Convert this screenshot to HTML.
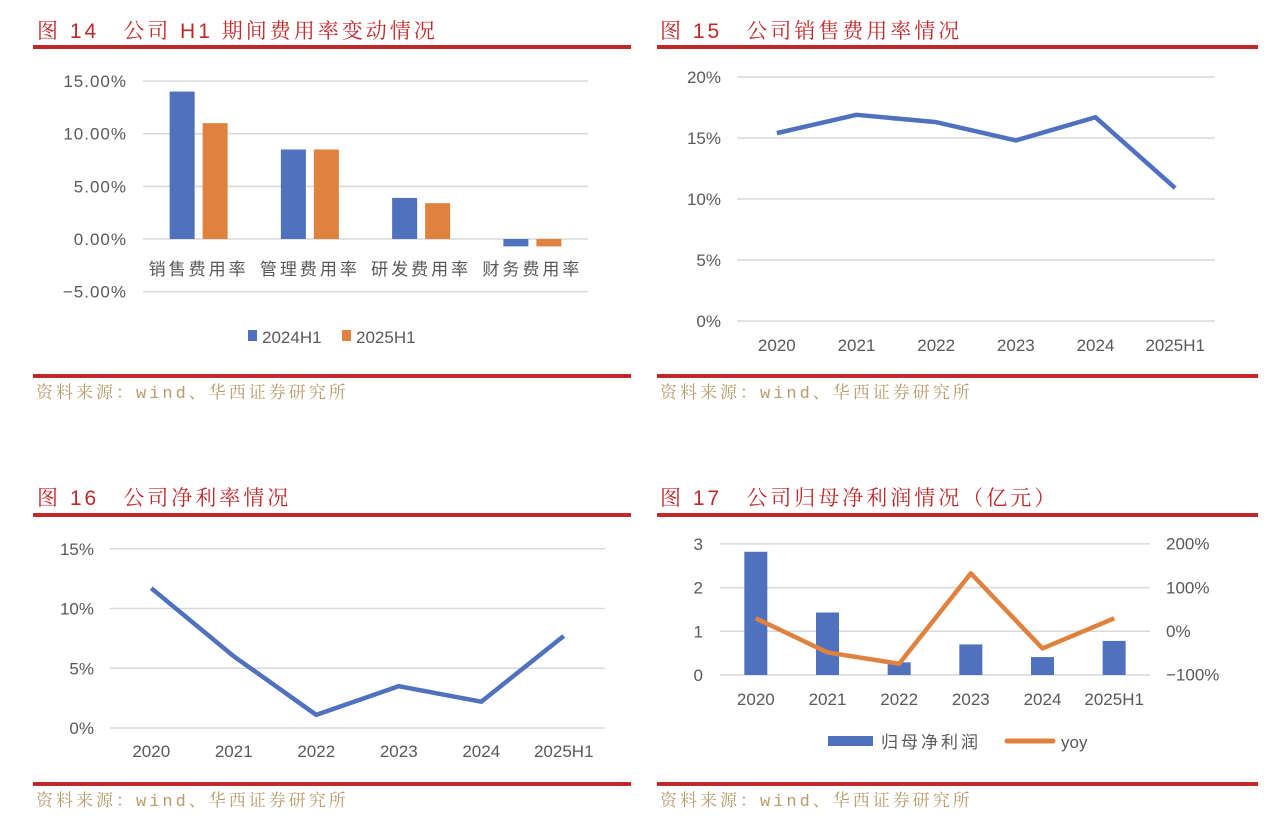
<!DOCTYPE html>
<html><head><meta charset="utf-8"><style>
body{margin:0;background:#fff;}
svg{display:block;}
.t{font-family:"Liberation Sans","Noto Serif CJK SC",serif;font-size:21px;fill:#c0282a;letter-spacing:3px;}
.ax{font-family:"Liberation Sans","Noto Sans CJK SC",sans-serif;font-size:17px;fill:#595959;}
.src{font-family:"Liberation Mono","Noto Serif CJK SC",serif;font-size:17px;fill:#b89b6b;letter-spacing:3px;}
.grid{stroke:#d9d9d9;stroke-width:1.5;}
</style></head><body>
<svg id="s" width="1269" height="816">
<g><text class="t" x="37" y="38">图 14　公司 H1 期间费用率变动情况</text></g>
<rect x="33" y="45" width="598" height="4" fill="#c0282a"/>
<rect x="33" y="374" width="598" height="4" fill="#c0282a"/>
<text class="src" x="36" y="398">资料来源：wind、华西证券研究所</text>
<text class="t" x="660" y="38">图 15　公司销售费用率情况</text>
<rect x="657" y="45" width="601" height="4" fill="#c0282a"/>
<rect x="657" y="374" width="601" height="4" fill="#c0282a"/>
<text class="src" x="660" y="398">资料来源：wind、华西证券研究所</text>
<text class="t" x="37" y="505">图 16　公司净利率情况</text>
<rect x="33" y="513" width="598" height="4" fill="#c0282a"/>
<rect x="33" y="782" width="598" height="4" fill="#c0282a"/>
<text class="src" x="36" y="806">资料来源：wind、华西证券研究所</text>
<text class="t" x="660" y="505">图 17　公司归母净利润情况（亿元）</text>
<rect x="657" y="513" width="601" height="4" fill="#c0282a"/>
<rect x="657" y="782" width="601" height="4" fill="#c0282a"/>
<text class="src" x="660" y="806">资料来源：wind、华西证券研究所</text>
</svg>
<script>
const NS="http://www.w3.org/2000/svg";
const svg=document.getElementById('s');
function mk(tag,attrs,parent){const e=document.createElementNS(NS,tag);for(const k in attrs)e.setAttribute(k,attrs[k]);(parent||svg).appendChild(e);return e;}

// Fig 14 data
const f14Cats=["销售费用率","管理费用率","研发费用率","财务费用率"];
const f14S1=[14.0,8.5,3.9,-0.7];
const f14S2=[11.0,8.5,3.4,-0.7];
const f14Ticks=[15,10,5,0,-5];
const f14TickLabels=["15.00%","10.00%","5.00%","0.00%","−5.00%"];
// Fig 15
const f15Cats=["2020","2021","2022","2023","2024","2025H1"];
const f15Vals=[15.4,16.9,16.3,14.8,16.7,10.9];
const f15Ticks=[20,15,10,5,0];
// Fig 16
const f16Cats=["2020","2021","2022","2023","2024","2025H1"];
const f16Vals=[11.7,6.0,1.1,3.5,2.2,7.7];
const f16Ticks=[15,10,5,0];
// Fig 17
const f17Cats=["2020","2021","2022","2023","2024","2025H1"];
const f17Profit=[2.82,1.43,0.29,0.70,0.41,0.78];
const f17Yoy=[29,-49,-75,132,-40,29];
const f17LeftTicks=[3,2,1,0];
const f17RightTicks=[200,100,0,-100];

// ---- Fig 14
(function(){
  const y=v=>239-v*10.53, x0=143,x1=588, gw=(x1-x0)/4;
  f14Ticks.forEach((t,i)=>{
    const l=mk('line',{x1:x0,x2:x1,y1:y(t),y2:y(t),class:'grid'});
    
    
    const tx=mk('text',{x:127,y:y(t)+6,class:'ax','text-anchor':'end','letter-spacing':'1'});
    tx.textContent=f14TickLabels[i];
    
    
  });
  f14Cats.forEach((c,i)=>{
    const cx=x0+gw*(i+0.5);
    [[f14S1[i],'#4f71be',-29],[f14S2[i],'#e0823f',4]].forEach(([v,col,off],j)=>{
      const r=mk('rect',{x:cx+off,y:Math.min(y(v),y(0)),width:25,height:Math.abs(y(v)-y(0)),fill:col});
      
      
    });
    const tx=mk('text',{x:cx,y:275,class:'ax','text-anchor':'middle','font-size':'19','letter-spacing':'3'});
    tx.textContent=c;
    
    
  });
  const lg=mk('g',{});
  
  
  mk('rect',{x:248,y:330,width:9,height:11,fill:'#4f71be'},lg);
  let t=mk('text',{x:262,y:343,class:'ax'},lg);t.textContent='2024H1';
  mk('rect',{x:342,y:330,width:9,height:11,fill:'#e0823f'},lg);
  t=mk('text',{x:356,y:343,class:'ax'},lg);t.textContent='2025H1';
})();

// ---- line chart helper
function lineChart(pref,cats,vals,ticks,yf,x0,x1,labX,catY){
  ticks.forEach(t=>{
    const l=mk('line',{x1:x0,x2:x1,y1:yf(t),y2:yf(t),class:'grid'});
    
    
    const tx=mk('text',{x:labX,y:yf(t)+6,class:'ax','text-anchor':'end'});
    tx.textContent=t+'%';
    
    
  });
  const w=(x1-x0)/cats.length;
  const pts=vals.map((v,i)=>(x0+w*(i+0.5))+','+yf(v)).join(' ');
  const p=mk('polyline',{points:pts,fill:'none',stroke:'#4f71be','stroke-width':4.5,'stroke-linejoin':'round'});
  
  
  cats.forEach((c,i)=>{
    const tx=mk('text',{x:x0+w*(i+0.5),y:catY,class:'ax','text-anchor':'middle'});
    tx.textContent=c;
    
    
  });
}
lineChart('fig15',f15Cats,f15Vals,f15Ticks,v=>321-v*12.2,737,1215,721,351);
lineChart('fig16',f16Cats,f16Vals,f16Ticks,v=>728-v*11.95,110,605,94,757);

// ---- Fig 17
(function(){
  const yl=v=>675-v*43.7, yr=v=>631-v*0.437, x0=720,x1=1150, w=(x1-x0)/6;
  f17LeftTicks.forEach((t,i)=>{
    const l=mk('line',{x1:x0,x2:x1,y1:yl(t),y2:yl(t),class:'grid'});
    
    
    const tx=mk('text',{x:703,y:yl(t)+6,class:'ax','text-anchor':'end'});
    tx.textContent=t;
    
    
  });
  f17RightTicks.forEach(t=>{
    const tx=mk('text',{x:1166,y:yr(t)+6,class:'ax'});
    tx.textContent=(t<0?'−'+(-t):t)+'%';
    
    
  });
  f17Cats.forEach((c,i)=>{
    const cx=x0+w*(i+0.5);
    const r=mk('rect',{x:cx-11.5,y:yl(f17Profit[i]),width:23,height:yl(0)-yl(f17Profit[i]),fill:'#4f71be'});
    
    
    const tx=mk('text',{x:cx,y:705,class:'ax','text-anchor':'middle'});
    tx.textContent=c;
    
    
  });
  const p=mk('polyline',{points:f17Yoy.map((v,i)=>(x0+w*(i+0.5))+','+yr(v)).join(' '),fill:'none',stroke:'#e0823f','stroke-width':4.5,'stroke-linejoin':'round'});
  
  
  const lg=mk('g',{});
  
  
  mk('rect',{x:828,y:736,width:45,height:10,fill:'#4f71be'},lg);
  let t=mk('text',{x:881,y:748,class:'ax','font-size':'18','letter-spacing':'3'},lg);t.textContent='归母净利润';
  mk('line',{x1:1007,x2:1053,y1:741,y2:741,stroke:'#e0823f','stroke-width':5,'stroke-linecap':'round'},lg);
  t=mk('text',{x:1061,y:748,class:'ax'},lg);t.textContent='yoy';
})();
</script>
</body></html>
